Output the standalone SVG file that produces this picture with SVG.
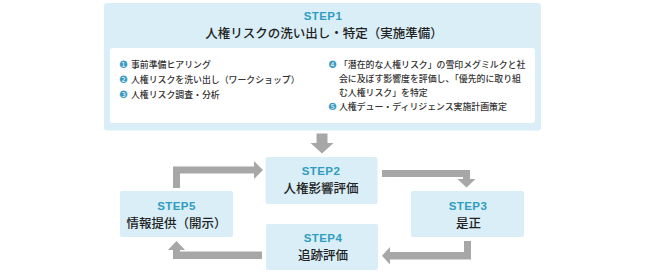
<svg xmlns="http://www.w3.org/2000/svg" width="645" height="273" viewBox="0 0 645 273">
<style>
.box{fill:#d9eef6}
.inner{fill:#ffffff}
.arr{fill:#a7a7a7}
.step{font-family:"Liberation Sans",Arial,sans-serif;font-weight:bold;font-size:11.5px;fill:#2f9cc2;text-anchor:middle;letter-spacing:0.4px}
.ttl{font-family:"Noto Sans CJK JP",sans-serif;font-weight:500;font-size:12.5px;fill:#222222;text-anchor:middle}
.item{font-family:"Noto Sans CJK JP",sans-serif;font-weight:500;font-size:8.9px;fill:#333333}
.num{font-family:"DejaVu Sans",sans-serif;font-size:10px;fill:#3a9cc2}
</style>
<rect width="645" height="273" fill="#ffffff"/>
<g id="step1">
<rect class="box" x="104" y="3" width="437" height="127.5" rx="3"/>
<rect class="inner" x="110" y="48" width="425" height="75" rx="3"/>
<text class="step" x="323" y="19.5">STEP1</text>
<text class="ttl" x="324" y="37.5">人権リスクの洗い出し・特定（実施準備）</text>
<text class="num" x="119" y="68">❶</text>
<text class="item" x="131" y="67.5">事前準備ヒアリング</text>
<text class="num" x="119" y="83">❷</text>
<text class="item" x="131" y="82.5">人権リスクを洗い出し（ワークショップ）</text>
<text class="num" x="119" y="98">❸</text>
<text class="item" x="131" y="97.5">人権リスク調査・分析</text>
<text class="num" x="328" y="68">❹</text>
<text class="item" x="339" y="67.5">「潜在的な人権リスク」の雪印メグミルクと社</text>
<text class="item" x="339" y="81.5">会に及ぼす影響度を評価し、「優先的に取り組</text>
<text class="item" x="339" y="95.5">む人権リスク」を特定</text>
<text class="num" x="328" y="110">❺</text>
<text class="item" x="339" y="109.5">人権デュー・ディリジェンス実施計画策定</text>
</g>
<g id="step2">
<rect class="box" x="265.5" y="157" width="112" height="47" rx="2"/>
<text class="step" x="321" y="175">STEP2</text>
<text class="ttl" x="321" y="193">人権影響評価</text>
</g>
<g id="step3">
<rect class="box" x="411" y="191" width="113" height="46" rx="2"/>
<text class="step" x="468" y="210">STEP3</text>
<text class="ttl" x="468.5" y="228">是正</text>
</g>
<g id="step4">
<rect class="box" x="266" y="224" width="112" height="46" rx="2"/>
<text class="step" x="323" y="241.5">STEP4</text>
<text class="ttl" x="323" y="259.5">追跡評価</text>
</g>
<g id="step5">
<rect class="box" x="120" y="191" width="113" height="46" rx="2"/>
<text class="step" x="176.5" y="210">STEP5</text>
<text class="ttl" x="176.5" y="228">情報提供（開示）</text>
</g>
<g id="connectors">
<polygon class="arr" points="316.5,133.5 327.5,133.5 327.5,143 333.5,143 322,153.5 310.5,143 316.5,143"/>
<polygon class="arr" points="382,170 470,170 470,179 475.5,179 466.5,187.5 457.5,179 463,179 463,177 382,177"/>
<polygon class="arr" points="464,241 471,241 471,259.5 390,259.5 390,264.5 382,255.75 390,247 390,252 464,252"/>
<polygon class="arr" points="262,251.5 262,259 173,259 173,250 168,250 176.5,241 185,250 180,250 180,251.5"/>
<polygon class="arr" points="173,188 180,188 180,173.5 254,173.5 254,179 263,170 254,161 254,166.5 173,166.5"/>
</g>
</svg>
